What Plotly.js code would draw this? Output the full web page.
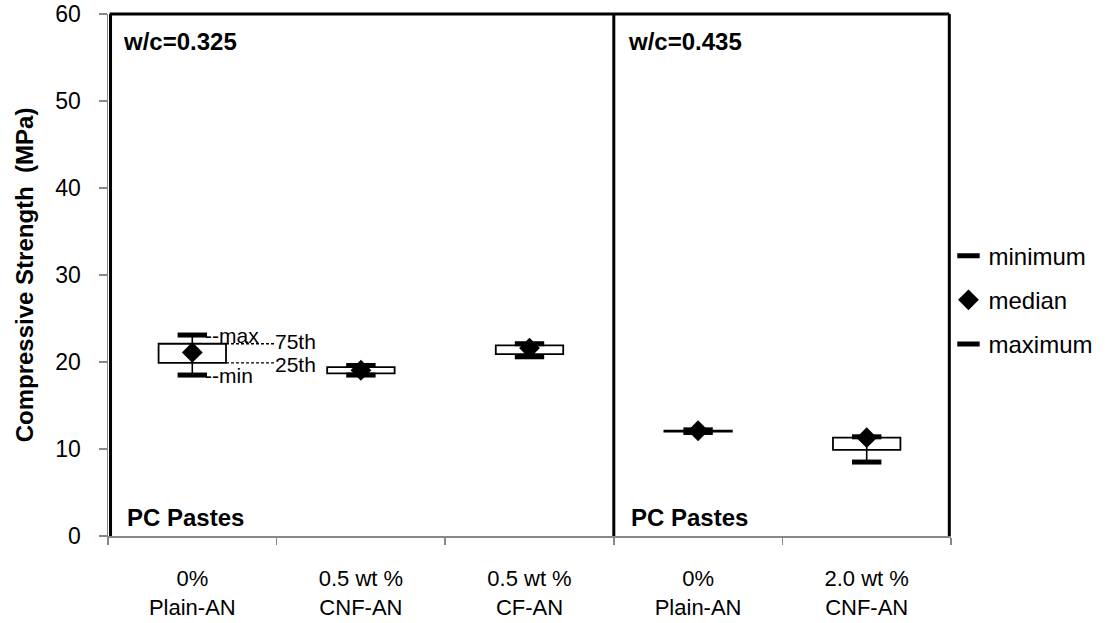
<!DOCTYPE html>
<html>
<head>
<meta charset="utf-8">
<script src="https://cdn.plot.ly/plotly-3.0.1.min.js"></script>
<style>html,body{margin:0;padding:0;background:#fff;}#chart{width:1110px;height:623px;}</style>
</head>
<body>
<div id="chart"></div>
<script>
// ---- data ----
const categories = ["0%<br>Plain-AN", "0.5 wt %<br>CNF-AN", "0.5 wt %<br>CF-AN", "0%<br>Plain-AN", "2.0 wt %<br>CNF-AN"];
const minimum = [18.5, 18.5, 20.6, 11.9, 8.5];
const q1      = [19.9, 18.7, 20.9, 12.0, 9.9];
const median  = [21.1, 19.05, 21.6, 12.1, 11.3];
const q3      = [22.1, 19.4, 21.9, 12.1, 11.3];
const maximum = [23.1, 19.6, 22.1, 12.2, 11.4];
const groupLabels = ["w/c=0.325", "w/c=0.435"];
const pasteLabel = "PC Pastes";
const legendNames = ["minimum", "median", "maximum"];
const statLabels = ["--max", "75th", "25th", "--min"];

const xs = categories.map((c, i) => i);
const boundaries = categories.map((c, i) => i - 0.5).concat([categories.length - 0.5]);
const F = "Arial, 'Liberation Sans', sans-serif";
const BOXW = 0.4;

const traces = [
  {
    type: "bar", x: xs, base: q1, y: q1.map((v, i) => q3[i] - v),
    width: BOXW, marker: {color: "#ffffff", line: {color: "#000", width: 1.8}},
    showlegend: false, hoverinfo: "skip"
  },
  {
    type: "scatter", mode: "markers", name: legendNames[0], x: xs, y: minimum,
    legendgroup: "a",
    marker: {symbol: "line-ew", size: 21, color: "#000", line: {color: "#000", width: 5}}
  },
  {
    type: "scatter", mode: "markers", name: legendNames[1], x: xs, y: median,
    legendgroup: "b",
    marker: {symbol: "diamond", size: 16, color: "#000"},
    error_y: {type: "data", symmetric: false,
      array: maximum.map((v, i) => v - median[i]),
      arrayminus: median.map((v, i) => v - minimum[i]),
      width: 0, thickness: 1.6, color: "#000"}
  },
  {
    type: "scatter", mode: "markers", name: legendNames[2], x: xs, y: maximum,
    legendgroup: "c",
    marker: {symbol: "line-ew", size: 21, color: "#000", line: {color: "#000", width: 5}}
  }
];

const labFont = {family: F, size: 21, color: "#000"};
const boldFont = {family: F, size: 24, color: "#000"};
const LEAD = 0.29; // leader length beyond box edge (in category units)
const annotations = [
  {xref: "paper", yref: "paper", x: 0.015, y: 0.948, text: "<b>" + groupLabels[0] + "</b>", showarrow: false, xanchor: "left", yanchor: "middle", font: boldFont},
  {xref: "paper", yref: "paper", x: 0.614, y: 0.948, text: "<b>" + groupLabels[1] + "</b>", showarrow: false, xanchor: "left", yanchor: "middle", font: boldFont},
  {xref: "paper", yref: "paper", x: 0.020, y: 0.036, text: "<b>" + pasteLabel + "</b>", showarrow: false, xanchor: "left", yanchor: "middle", font: boldFont},
  {xref: "paper", yref: "paper", x: 0.618, y: 0.036, text: "<b>" + pasteLabel + "</b>", showarrow: false, xanchor: "left", yanchor: "middle", font: boldFont},
  {xref: "x", yref: "y", x: 0, y: maximum[0], xshift: 11, text: statLabels[0], showarrow: false, xanchor: "left", yanchor: "middle", font: labFont},
  {xref: "x", yref: "y", x: BOXW / 2 + LEAD, y: q3[0], xshift: -2, yshift: 2, text: statLabels[1], showarrow: false, xanchor: "left", yanchor: "middle", font: labFont},
  {xref: "x", yref: "y", x: BOXW / 2 + LEAD, y: q1[0], xshift: -2, yshift: -2, text: statLabels[2], showarrow: false, xanchor: "left", yanchor: "middle", font: labFont},
  {xref: "x", yref: "y", x: 0, y: minimum[0], xshift: 11, text: statLabels[3], showarrow: false, xanchor: "left", yanchor: "middle", font: labFont}
];

const frame = {type: "line", line: {color: "#000", width: 3}, layer: "above"};
const lead = {type: "line", xref: "x", yref: "y", line: {color: "#000", width: 1.3, dash: "3px,2px"}};
const shapes = [
  Object.assign({}, frame, {xref: "paper", yref: "paper", x0: 0.003, x1: 0.003, y0: 0, y1: 1}),
  Object.assign({}, frame, {xref: "paper", yref: "paper", x0: 0.002, x1: 0.998, y0: 1, y1: 1}),
  Object.assign({}, frame, {xref: "paper", yref: "paper", x0: 0.998, x1: 0.998, y0: 0, y1: 1}),
  Object.assign({}, frame, {xref: "x", yref: "paper", x0: 2.5, x1: 2.5, y0: 0, y1: 1}),
  Object.assign({}, lead, {x0: BOXW / 2, x1: BOXW / 2 + LEAD, y0: q3[0], y1: q3[0]}),
  Object.assign({}, lead, {x0: BOXW / 2, x1: BOXW / 2 + LEAD, y0: q1[0], y1: q1[0]})
];

const layout = {
  width: 1110, height: 623,
  margin: {l: 108, r: 156, t: 14, b: 87, pad: 0},
  paper_bgcolor: "#fff", plot_bgcolor: "#fff",
  font: {family: F, size: 24, color: "#000"},
  showlegend: true,
  legend: {x: 0.997, xanchor: "left", y: 0.452, yanchor: "middle", tracegroupgap: 10,
    font: {family: F, size: 24, color: "#000"}, bgcolor: "rgba(0,0,0,0)", itemwidth: 30},
  xaxis: {
    range: [-0.5, 4.5], tickmode: "array", tickvals: xs, ticktext: categories,
    ticks: "", showgrid: false, zeroline: false,
    showline: true, linecolor: "#888", linewidth: 2,
    ticklabelstandoff: 22,
    tickfont: {family: F, size: 22, color: "#000"},
    minor: {tickmode: "array", tickvals: boundaries, ticks: "outside", ticklen: 7, tickcolor: "#888", tickwidth: 1.5, showgrid: false}
  },
  xaxis2: {
    overlaying: "x", anchor: "y", side: "bottom", range: [-0.5, 4.5],
    tickmode: "array", tickvals: boundaries, ticks: "inside", ticklen: 8, tickcolor: "#888", tickwidth: 1.5,
    showticklabels: false, showgrid: false, zeroline: false, showline: false
  },
  yaxis: {
    range: [0, 60], dtick: 10, ticks: "outside", ticklen: 8, tickcolor: "#888", tickwidth: 1.5,
    showline: true, linecolor: "#888", linewidth: 1.5, showgrid: false, zeroline: false,
    ticklabelstandoff: 13,
    tickfont: {family: F, size: 23, color: "#000"},
    title: {text: "<b>Compressive Strength  (MPa)</b>", font: {family: F, size: 24, color: "#000"}, standoff: 15}
  },
  annotations: annotations,
  shapes: shapes,
  bargap: 0
};

Plotly.newPlot("chart", traces, layout, {displayModeBar: false, staticPlot: true});
</script>
</body>
</html>
